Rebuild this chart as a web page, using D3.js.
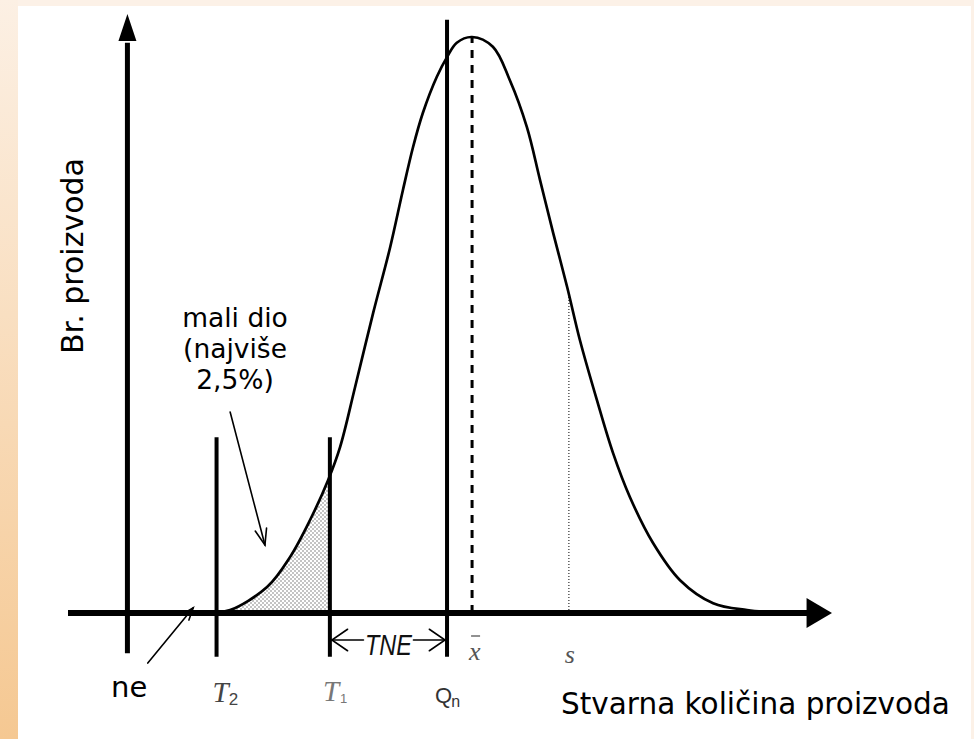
<!DOCTYPE html>
<html>
<head>
<meta charset="utf-8">
<script src="https://cdn.jsdelivr.net/npm/d3@7"></script>
<style>
  body { margin: 0; background: #fff; overflow: hidden; }
  text { font-family: "DejaVu Sans", Verdana, sans-serif; }
</style>
</head>
<body>
<div id="viz"></div>
<script>
// distribution curve (x = quantity, y = number of products, peak = 100)
const curveX = [35.3, 38.2, 46.9, 52.3, 57.0, 61.3, 64.1, 67.6, 71.9, 75.9, 78.9, 81.3, 83.6, 86.9, 89.3, 91.6, 95.2,
                100.1, 104.1, 108.1, 111.2, 114.3, 117.6, 120.6, 124.6, 128.4, 132.4, 137.8, 144.2, 152.0, 160.0, 167.8];
const curveY = [0.2, 0.5, 4.5, 9.7, 16.1, 23.1, 28.8, 39.1, 52.1, 63.5, 73.4, 80.9, 86.8, 93.1, 96.5, 99.0, 100,
                98.3, 92.5, 84.4, 75.2, 66.0, 56.6, 47.4, 37.0, 27.8, 20.1, 12.2, 5.7, 1.7, 0.5, 0];

// positions on the quantity axis
const markNames = ["T2", "T1", "Qn", "xbar", "s"];
const markValues = [35.0, 61.7, 89.3, 95.2, 118.0];
const yAxisAt = 14;

// texts
const axisTitles = ["Br. proizvoda", "Stvarna količina proizvoda"];
const noteLines = ["mali dio", "(najviše", "2,5%)"];
const neLabel = "ne";
const gapLabel = "TNE";

const W = 974, H = 739;
const mark = {};
markNames.forEach((n, i) => mark[n] = markValues[i]);

const svg = d3.select("#viz").append("svg")
    .attr("width", W)
    .attr("height", H);

const defs = svg.append("defs");
const grad = defs.append("linearGradient").attr("id", "side")
    .attr("x1", 0).attr("y1", 0).attr("x2", 0).attr("y2", 1);
grad.append("stop").attr("offset", "0%").attr("stop-color", "#fcf0e4");
grad.append("stop").attr("offset", "100%").attr("stop-color", "#f5c892");

const dots = defs.append("pattern").attr("id", "dots")
    .attr("width", 4).attr("height", 4).attr("patternUnits", "userSpaceOnUse");
dots.append("circle").attr("cx", 1).attr("cy", 1).attr("r", 0.75).attr("fill", "#6a6a6a");
dots.append("circle").attr("cx", 3).attr("cy", 3).attr("r", 0.75).attr("fill", "#6a6a6a");

// slide background
svg.append("rect").attr("width", W).attr("height", H).attr("fill", "#fcf1e7");
svg.append("rect").attr("width", 18).attr("height", H).attr("fill", "url(#side)");
svg.append("rect").attr("x", 18).attr("y", 6).attr("width", 953).attr("height", H - 6).attr("fill", "#fff");

const x = d3.scaleLinear().domain([0, 180]).range([68, 832]);
const y = d3.scaleLinear().domain([0, 100]).range([613, 37]);
const y0 = y(0);

function curveAt(v) {
  const i = Math.max(1, Math.min(curveX.length - 1, d3.bisectLeft(curveX, v)));
  const t = (v - curveX[i - 1]) / (curveX[i] - curveX[i - 1]);
  return curveY[i - 1] + t * (curveY[i] - curveY[i - 1]);
}

const pts = curveX.map((v, i) => [v, curveY[i]]);

// shaded part between T2 and T1
defs.append("clipPath").attr("id", "band")
  .append("rect")
    .attr("x", x(mark.T2)).attr("y", 0)
    .attr("width", x(mark.T1) - x(mark.T2)).attr("height", y0);

svg.append("path")
    .datum(pts)
    .attr("clip-path", "url(#band)")
    .attr("fill", "url(#dots)")
    .attr("d", d3.area().curve(d3.curveCatmullRom)
        .x(d => x(d[0])).y0(y0).y1(d => y(d[1])));

// x̄ dashed and s dotted lines
svg.append("line")
    .attr("x1", x(mark.xbar)).attr("x2", x(mark.xbar))
    .attr("y1", y0).attr("y2", y(curveAt(mark.xbar)))
    .attr("stroke", "#000").attr("stroke-width", 3).attr("stroke-dasharray", "8,7");
svg.append("line")
    .attr("x1", x(mark.s)).attr("x2", x(mark.s))
    .attr("y1", y0).attr("y2", y(curveAt(mark.s)))
    .attr("stroke", "#555").attr("stroke-width", 1.5).attr("stroke-dasharray", "1,2");

// the curve
svg.append("path")
    .datum(pts)
    .attr("fill", "none")
    .attr("stroke", "#000")
    .attr("stroke-width", 2.7)
    .attr("d", d3.line().curve(d3.curveCatmullRom).x(d => x(d[0])).y(d => y(d[1])));

// axes
svg.append("line")
    .attr("x1", x(0)).attr("x2", x(174.2)).attr("y1", y0).attr("y2", y0)
    .attr("stroke", "#000").attr("stroke-width", 6);
svg.append("path")
    .attr("d", `M${x(174)},${y0 - 15}L${x(180)},${y0}L${x(174)},${y0 + 15}Z`)
    .attr("fill", "#000");
svg.append("line")
    .attr("x1", x(yAxisAt)).attr("x2", x(yAxisAt)).attr("y1", y(-7)).attr("y2", y(99))
    .attr("stroke", "#000").attr("stroke-width", 5);
svg.append("path")
    .attr("d", `M${x(yAxisAt) - 9},${y(99.3)}L${x(yAxisAt)},${y(104)}L${x(yAxisAt) + 9},${y(99.3)}Z`)
    .attr("fill", "#000");

// limit lines
[["T2", 30.5], ["T1", 30.5], ["Qn", 103]].forEach(([n, top]) => {
  svg.append("line")
      .attr("x1", x(mark[n])).attr("x2", x(mark[n]))
      .attr("y1", y(-7.6)).attr("y2", y(top))
      .attr("stroke", "#000").attr("stroke-width", 4);
});

// arrow helper
function arrow(xa, ya, xb, yb, len, spread, width) {
  const a = Math.atan2(yb - ya, xb - xa);
  const g = svg.append("g").attr("stroke", "#000").attr("stroke-width", width)
      .attr("fill", "none").attr("stroke-linecap", "round");
  g.append("line").attr("x1", xa).attr("y1", ya).attr("x2", xb).attr("y2", yb);
  g.append("path").attr("d",
      `M${xb - len * Math.cos(a - spread)},${yb - len * Math.sin(a - spread)}` +
      `L${xb},${yb}` +
      `L${xb - len * Math.cos(a + spread)},${yb - len * Math.sin(a + spread)}`);
}

// TNE span
const ty = y0 + 27;
const tx = (x(mark.T1) + x(mark.Qn)) / 2;
arrow(tx - 25, ty, x(mark.T1) + 2, ty, 19, 0.6, 1.6);
arrow(tx + 25, ty, x(mark.Qn) - 2, ty, 19, 0.6, 1.6);
svg.append("text")
    .attr("x", tx).attr("y", ty + 15)
    .attr("text-anchor", "middle")
    .style("font-family", "'Liberation Sans', Arial, sans-serif")
    .style("font-style", "italic")
    .style("font-size", "29px")
    .attr("textLength", 47).attr("lengthAdjust", "spacingAndGlyphs")
    .attr("fill", "#111")
    .text(gapLabel);

// annotation arrows
arrow(x(38.2), y(34.9), x(46.4), y(11.8), 17, 0.35, 1.6);
arrow(x(18.8), y(-8.7), x(29.5), y(0.9), 13, 0.35, 1.6);

// labels under the axis
const serif = "'Liberation Serif', 'Times New Roman', serif";
const sans = "'Liberation Sans', Arial, sans-serif";
function subLabel(v, dx, main, sub, mainFont, color, dy, subDx, subDy, mainSize, subSize, italic) {
  const t = svg.append("text")
      .attr("x", x(v) + dx).attr("y", y0 + dy)
      .attr("fill", color)
      .style("font-family", mainFont)
      .style("font-size", mainSize + "px");
  t.append("tspan").style("font-style", italic ? "italic" : "normal").text(main);
  t.append("tspan")
      .attr("dx", subDx).attr("dy", subDy)
      .style("font-family", sans)
      .style("font-size", subSize + "px")
      .text(sub);
}
subLabel(mark.T2, -4, "T", "2", serif, "#444", 89, 0, 3, 29, 17, true);
subLabel(mark.T1, -7, "T", "1", serif, "#777", 88, 1, 2, 29, 13, true);
subLabel(mark.Qn, -12, "Q", "n", sans, "#333", 90, -1, 4, 22, 16, false);

svg.append("text")
    .attr("x", x(mark.xbar) - 3).attr("y", y0 + 47)
    .attr("fill", "#555")
    .style("font-family", serif).style("font-style", "italic").style("font-size", "26px")
    .text("x");
svg.append("line")
    .attr("x1", x(mark.xbar) - 1).attr("x2", x(mark.xbar) + 8)
    .attr("y1", y0 + 23).attr("y2", y0 + 23)
    .attr("stroke", "#555").attr("stroke-width", 1.3);

svg.append("text")
    .attr("x", x(mark.s) - 4).attr("y", y0 + 50)
    .attr("fill", "#555")
    .style("font-family", serif).style("font-style", "italic").style("font-size", "26px")
    .text("s");

// titles and notes
svg.append("text")
    .attr("transform", `translate(83,256) rotate(-90)`)
    .attr("text-anchor", "middle")
    .attr("fill", "#000")
    .style("font-size", "30px")
    .text(axisTitles[0]);

svg.append("text")
    .attr("x", 561).attr("y", 714)
    .attr("fill", "#000")
    .style("font-size", "29.5px")
    .text(axisTitles[1]);

svg.append("text")
    .attr("x", 111).attr("y", 697)
    .attr("fill", "#000")
    .style("font-size", "29px")
    .text(neLabel);

svg.append("g").selectAll("text")
  .data(noteLines)
  .join("text")
    .attr("x", 235)
    .attr("y", (d, i) => 327 + i * 31)
    .attr("text-anchor", "middle")
    .attr("fill", "#000")
    .style("font-size", "26.5px")
    .text(d => d);
</script>
</body>
</html>
